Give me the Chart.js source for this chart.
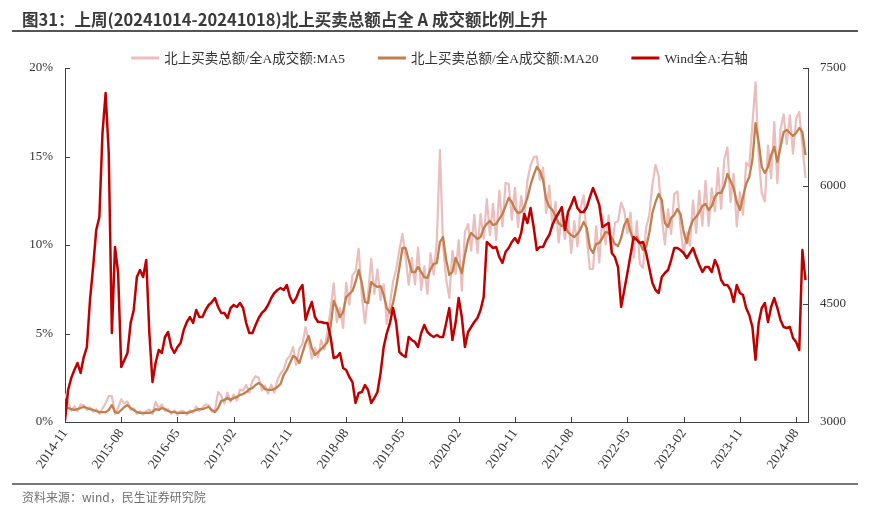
<!DOCTYPE html>
<html>
<head>
<meta charset="utf-8">
<script src="https://cdn.jsdelivr.net/npm/chart.js@4.4.1/dist/chart.umd.min.js"></script>
<style>
    html, body { margin: 0; padding: 0; background: #fff; }
    #wrap { position: relative; width: 879px; height: 507px; overflow: hidden; }
    #title {
        position: absolute; left: 22px; top: 7px; white-space: nowrap;
        font: bold 16.5px "Noto Sans CJK SC", sans-serif; color: #3a3a3a;
    }
    .rule { position: absolute; left: 12px; width: 846px; background: #555; }
    #source {
        position: absolute; left: 22px; top: 488px; white-space: nowrap;
        font: 12px "Noto Sans CJK SC", sans-serif; color: #707070;
    }
    canvas { position: absolute; left: 0; top: 0; }
</style>
</head>
<body>
<div id="wrap">
    <canvas id="chart" width="879" height="507"></canvas>
    <div id="title">图31：上周(20241014-20241018)北上买卖总额占全 A 成交额比例上升</div>
    <div class="rule" style="top:30px;height:2px;"></div>
    <div class="rule" style="top:483px;height:2px;background:#777;"></div>
    <div id="source">资料来源：wind，民生证券研究院</div>
</div>
<script>
// samples every half month, starting 2014-11-17
const STEP = 0.5;
const xTickLabels = ['2014-11', '2015-08', '2016-05', '2017-02', '2017-11', '2018-08', '2019-05',
    '2020-02', '2020-11', '2021-08', '2022-05', '2023-02', '2023-11', '2024-08'];
const seriesNames = ['北上买卖总额/全A成交额:MA5', '北上买卖总额/全A成交额:MA20', 'Wind全A:右轴'];

// 北上买卖总额/全A成交额 MA5 (%)
const ma5Ratio = [
    1.59, 1.09, 0.63, 0.88, 0.63, 0.99, 0.95, 0.69, 0.83, 0.58,
    0.72, 0.46, 0.76, 1.06, 1.48, 1.46, 0.46, 0.81, 1.28, 1.05,
    1.16, 0.69, 0.78, 0.46, 0.61, 0.41, 0.61, 0.71, 0.46, 1.13,
    0.78, 0.99, 0.63, 0.72, 0.46, 0.66, 0.41, 0.61, 0.61, 0.41,
    0.66, 0.52, 0.88, 0.63, 0.83, 0.99, 0.95, 0.58, 0.66, 1.69,
    1.49, 1.04, 1.66, 1.14, 1.56, 1.21, 1.83, 1.78, 2.09, 1.66,
    2.32, 2.59, 2.50, 1.79, 2.06, 1.61, 2.11, 1.66, 2.38, 2.75,
    2.96, 3.54, 3.73, 4.23, 3.22, 4.13, 4.40, 5.36, 4.56, 3.58,
    4.19, 3.65, 4.62, 4.09, 5.12, 6.37, 7.84, 5.64, 6.43, 5.31,
    7.86, 6.63, 8.30, 8.51, 9.79, 7.15, 5.58, 7.22, 9.21, 7.24,
    8.63, 6.88, 7.78, 5.54, 6.66, 7.92, 8.63, 9.70, 10.63, 9.33,
    7.75, 9.27, 7.77, 9.86, 7.47, 8.79, 7.24, 9.54, 8.33, 10.18,
    15.37, 9.95, 8.05, 7.01, 9.67, 8.37, 10.27, 7.42, 10.74, 11.18,
    9.68, 11.71, 9.54, 11.75, 10.36, 12.59, 10.56, 12.33, 10.29, 13.07,
    11.05, 13.50, 13.46, 11.43, 13.23, 11.01, 12.76, 11.45, 13.66, 14.49,
    14.95, 15.01, 13.68, 14.37, 11.80, 13.35, 11.08, 12.44, 10.14, 11.77,
    10.33, 11.73, 9.56, 11.35, 9.92, 12.10, 12.80, 10.36, 8.63, 8.65,
    11.06, 9.01, 11.70, 10.03, 11.68, 9.60, 11.26, 11.34, 12.40, 11.93,
    10.67, 11.83, 9.28, 11.35, 8.91, 8.72, 10.99, 11.68, 13.41, 14.53,
    13.88, 11.54, 10.04, 12.02, 10.63, 12.89, 13.03, 10.95, 9.53, 10.71,
    9.96, 12.51, 10.68, 13.06, 11.10, 13.62, 11.08, 13.20, 11.91, 14.34,
    12.04, 14.83, 15.51, 12.42, 14.02, 11.03, 12.98, 11.71, 14.65, 14.44,
    16.80, 19.19, 15.02, 12.91, 12.47, 15.61, 13.78, 16.94, 13.49, 16.54,
    17.38, 15.70, 17.33, 15.16, 17.13, 17.51, 15.58, 13.78
];

// 北上买卖总额/全A成交额 MA20 (%)
const ma20Ratio = [
    0.79, 0.79, 0.73, 0.68, 0.73, 0.79, 0.85, 0.79, 0.73, 0.68,
    0.62, 0.56, 0.56, 0.56, 0.68, 0.96, 0.56, 0.51, 0.68, 0.85,
    0.96, 0.79, 0.68, 0.56, 0.51, 0.51, 0.51, 0.51, 0.56, 0.73,
    0.68, 0.79, 0.73, 0.62, 0.56, 0.56, 0.51, 0.51, 0.51, 0.51,
    0.56, 0.62, 0.68, 0.73, 0.73, 0.79, 0.85, 0.68, 0.56, 0.79,
    1.19, 1.24, 1.36, 1.24, 1.36, 1.41, 1.53, 1.58, 1.69, 1.86,
    1.92, 2.09, 2.20, 2.09, 1.86, 1.81, 1.81, 1.86, 1.98, 2.15,
    2.66, 2.94, 3.33, 3.73, 3.62, 3.33, 3.90, 4.46, 4.86, 4.18,
    3.79, 3.95, 4.12, 4.29, 4.52, 5.37, 6.84, 6.44, 5.93, 6.21,
    7.06, 7.23, 7.40, 7.91, 8.59, 7.85, 6.78, 6.72, 7.91, 7.74,
    7.63, 7.68, 7.18, 6.44, 6.16, 6.72, 7.63, 8.70, 9.83, 9.83,
    9.15, 8.47, 8.47, 8.76, 8.47, 8.19, 8.14, 8.64, 8.93, 8.98,
    10.17, 10.45, 9.15, 8.31, 8.47, 9.27, 8.87, 8.42, 9.44, 10.28,
    10.68, 10.51, 10.34, 10.45, 10.96, 11.19, 11.36, 11.13, 11.19, 11.47,
    11.75, 12.20, 12.66, 12.43, 12.03, 11.81, 11.86, 12.15, 12.66, 13.39,
    13.95, 14.41, 14.18, 13.67, 12.60, 12.15, 11.98, 11.64, 11.24, 11.07,
    11.13, 10.73, 10.56, 10.45, 10.62, 10.90, 11.30, 10.96, 9.83, 9.55,
    10.06, 10.11, 10.40, 10.73, 10.68, 10.40, 10.06, 9.94, 10.40, 11.13,
    11.47, 10.73, 10.28, 10.45, 10.11, 9.72, 9.89, 10.68, 11.81, 12.43,
    12.88, 12.54, 11.24, 11.02, 11.53, 11.69, 12.03, 11.75, 10.73, 10.11,
    10.96, 11.41, 11.58, 11.86, 12.20, 12.32, 11.98, 12.20, 12.71, 12.94,
    12.94, 13.33, 14.01, 13.62, 13.22, 12.43, 11.98, 12.71, 13.45, 13.84,
    14.80, 16.89, 15.82, 14.41, 14.07, 14.41, 15.08, 15.54, 14.69, 15.54,
    16.38, 16.50, 16.33, 16.16, 16.33, 16.61, 16.38, 15.08
];

// Wind全A (right axis)
const windA = [
    3020, 3407, 3559, 3661, 3750, 3623, 3826, 3953, 4551, 4970,
    5441, 5606, 6674, 7182, 6420, 4131, 5225, 4894, 3699, 3788,
    3877, 4258, 4424, 4843, 4932, 4843, 5059, 4131, 3508, 3750,
    3915, 3877, 4081, 4144, 3953, 3877, 3953, 4004, 4170, 4271,
    4335, 4258, 4424, 4335, 4335, 4424, 4487, 4525, 4576, 4462,
    4386, 4386, 4322, 4449, 4487, 4462, 4513, 4449, 4258, 4131,
    4131, 4233, 4322, 4386, 4424, 4487, 4576, 4640, 4678, 4703,
    4678, 4742, 4589, 4513, 4576, 4678, 4742, 4297, 4424, 4525,
    4335, 4271, 4271, 4258, 4258, 4081, 3814, 3826, 3877, 3686,
    3661, 3572, 3508, 3242, 3369, 3381, 3470, 3407, 3242, 3305,
    3381, 3623, 3953, 4131, 4258, 4449, 4258, 3890, 3852, 3826,
    4081, 4042, 4017, 3953, 4131, 4233, 4144, 4106, 4081, 4106,
    4081, 4081, 4258, 4449, 4042, 4258, 4576, 4335, 3953, 4144,
    4208, 4271, 4322, 4424, 4589, 5288, 5250, 5212, 5225, 5097,
    5021, 5161, 5212, 5288, 5339, 5275, 5403, 5644, 5530, 5720,
    5479, 5186, 5225, 5225, 5314, 5377, 5504, 5593, 5657, 5733,
    5441, 5670, 5759, 5860, 5720, 5670, 5670, 5733, 5860, 5975,
    5873, 5759, 5479, 5504, 5530, 5148, 5097, 4970, 4462, 4678,
    4894, 5123, 5352, 5314, 5275, 5288, 5148, 4958, 4767, 4678,
    4640, 4843, 4894, 4932, 5059, 5212, 5212, 5186, 5148, 5085,
    5148, 5212, 5097, 4996, 4907, 4970, 4970, 4907, 5059, 4970,
    4805, 4742, 4742, 4678, 4525, 4742, 4640, 4614, 4449, 4360,
    4208, 3790, 4258, 4449, 4513, 4271, 4462, 4576, 4449, 4297,
    4208, 4195, 4208, 4068, 4017, 3915, 5186, 4805
];

const AXIS_COLOR = '#404040';
const TEXT_COLOR = '#333';
const TICK_FONT = { family: '"Liberation Serif", "Noto Sans CJK SC", serif', size: 13 };
const LEGEND_FONT = '13.5px "Liberation Serif", "Noto Sans CJK SC", serif';

function toPoints(values) {
    return values.map((v, i) => ({ x: i * STEP, y: v }));
}

// tick marks drawn on the inside of the axes
const innerTicks = {
    id: 'innerTicks',
    afterDraw(chart) {
        const { ctx, chartArea: a, scales } = chart;
        ctx.save();
        ctx.strokeStyle = AXIS_COLOR;
        ctx.lineWidth = 1;
        ctx.beginPath();
        scales.x.ticks.forEach(t => {
            const px = Math.round(scales.x.getPixelForValue(t.value)) + 0.5;
            ctx.moveTo(px, a.bottom);
            ctx.lineTo(px, a.bottom - 5);
        });
        scales.y.ticks.forEach(t => {
            const py = Math.round(scales.y.getPixelForValue(t.value)) + 0.5;
            ctx.moveTo(a.left, py);
            ctx.lineTo(a.left + 5, py);
        });
        scales.y2.ticks.forEach(t => {
            const py = Math.round(scales.y2.getPixelForValue(t.value)) + 0.5;
            ctx.moveTo(a.right, py);
            ctx.lineTo(a.right - 5, py);
        });
        ctx.stroke();
        ctx.restore();
    }
};

// legend row with short line samples
const lineLegend = {
    id: 'lineLegend',
    afterDraw(chart) {
        const ctx = chart.ctx;
        const sample = 28, gapText = 5, gapItem = 33, y = 58;
        ctx.save();
        ctx.font = LEGEND_FONT;
        ctx.textBaseline = 'middle';
        const items = chart.data.datasets.map(d => ({
            d, w: sample + gapText + ctx.measureText(d.label).width
        }));
        const total = items.reduce((s, it) => s + it.w, 0) + gapItem * (items.length - 1);
        let x = (chart.width - total) / 2;
        items.forEach(it => {
            ctx.fillStyle = it.d.borderColor;
            ctx.fillRect(x, y - 1.5, sample, 3);
            ctx.fillStyle = TEXT_COLOR;
            ctx.fillText(it.d.label, x + sample + gapText, y + 1);
            x += it.w + gapItem;
        });
        ctx.restore();
    }
};

new Chart(document.getElementById('chart'), {
    type: 'line',
    data: {
        datasets: [
            {
                label: seriesNames[0],
                data: toPoints(ma5Ratio),
                borderColor: '#EBBDBD',
                borderWidth: 2.2,
                yAxisID: 'y',
                order: 3
            },
            {
                label: seriesNames[1],
                data: toPoints(ma20Ratio),
                borderColor: '#C27F4C',
                borderWidth: 2.3,
                yAxisID: 'y',
                order: 2
            },
            {
                label: seriesNames[2],
                data: toPoints(windA),
                borderColor: '#C00000',
                borderWidth: 2.5,
                yAxisID: 'y2',
                order: 1
            }
        ]
    },
    options: {
        responsive: false,
        animation: false,
        layout: { padding: { top: 68, left: 0, right: 0, bottom: 0 } },
        elements: {
            point: { radius: 0 },
            line: { tension: 0, borderJoinStyle: 'round' }
        },
        plugins: {
            legend: { display: false },
            tooltip: { enabled: false }
        },
        scales: {
            x: {
                type: 'linear',
                min: 0,
                max: 118.9,
                afterBuildTicks: scale => {
                    scale.ticks = xTickLabels.map((l, k) => ({ value: k * 9 }));
                },
                afterFit: scale => { scale.height = 507 - 422; },
                ticks: {
                    autoSkip: false,
                    maxRotation: 55,
                    minRotation: 55,
                    padding: 4,
                    color: TEXT_COLOR,
                    font: { ...TICK_FONT, size: 13.5 },
                    callback: v => xTickLabels[Math.round(v / 9)]
                },
                grid: { display: false, drawTicks: false },
                border: { display: true, color: AXIS_COLOR, width: 1 }
            },
            y: {
                position: 'left',
                min: 0,
                max: 20,
                afterFit: scale => { scale.width = 65; },
                ticks: {
                    stepSize: 5,
                    padding: 12,
                    color: TEXT_COLOR,
                    font: TICK_FONT,
                    callback: v => v + '%'
                },
                grid: { display: false, drawTicks: false },
                border: { display: true, color: AXIS_COLOR, width: 1 }
            },
            y2: {
                position: 'right',
                min: 3000,
                max: 7500,
                afterFit: scale => { scale.width = 879 - 808; },
                ticks: {
                    stepSize: 1500,
                    padding: 12,
                    color: TEXT_COLOR,
                    font: TICK_FONT,
                    callback: v => String(v)
                },
                grid: { display: false, drawTicks: false },
                border: { display: true, color: AXIS_COLOR, width: 1 }
            }
        }
    },
    plugins: [innerTicks, lineLegend]
});
</script>
</body>
</html>
